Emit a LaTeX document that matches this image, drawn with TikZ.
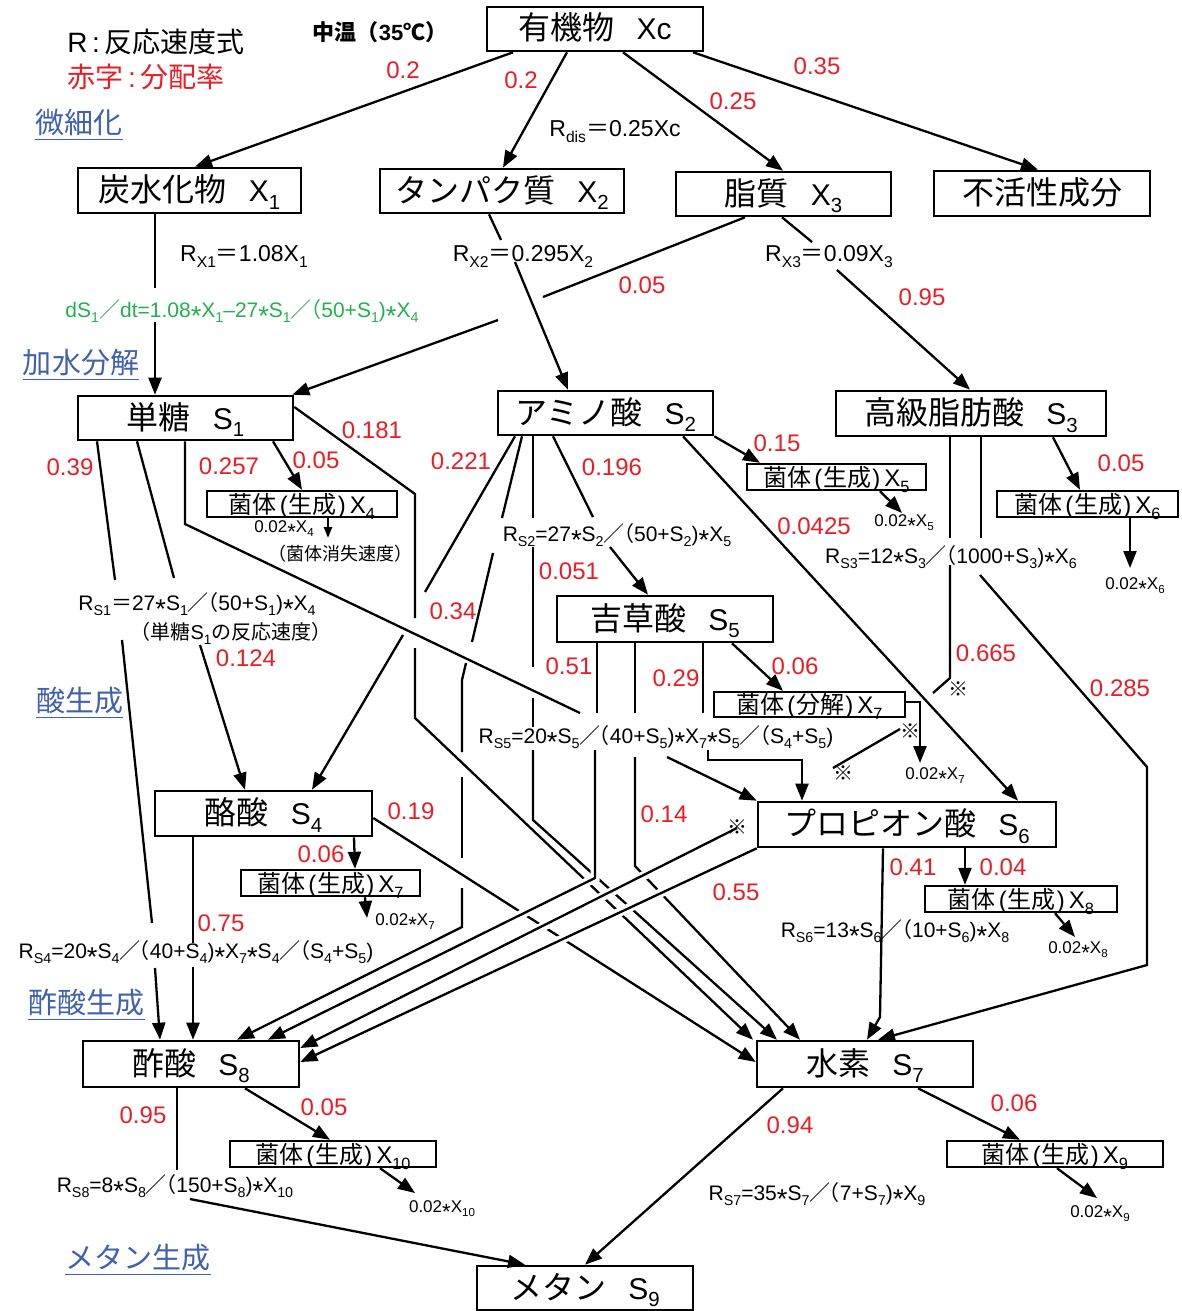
\documentclass[tikz,border=0pt]{standalone}
\usepackage{fontspec}
\setmainfont{Liberation Sans}
\newfontfamily\jp{Noto Sans CJK JP}
\usepackage{graphicx}
\usetikzlibrary{arrows.meta}
\definecolor{myred}{RGB}{237,28,36}
\definecolor{mygreen}{RGB}{34,177,76}
\definecolor{myblue}{RGB}{64,96,176}
\newcommand\J[1]{{\jp #1}}
\newcommand\BJ[1]{{\jp\fontsize{32}{32}\selectfont #1}}
\newcommand\SJ[1]{{\jp\fontsize{24}{24}\selectfont #1}}
\newcommand\kgen{\SJ{菌体}\hspace{3pt}(\hspace{1pt}\SJ{生成}\hspace{1pt})\hspace{4pt}}
\newcommand\kbun{\SJ{菌体}\hspace{3pt}(\hspace{1pt}\SJ{分解}\hspace{1pt})\hspace{4pt}}
\newcommand\dn[1]{\raisebox{-0.25em}{\scalebox{0.68}{#1}}}
\newcommand\astr{\raisebox{-0.4em}{\scalebox{1.3}{*}}}
\newcommand\slp{\J{／}\hspace{-0.55em}\J{（}}
\newcommand\fs[1]{\fontsize{#1}{#1}\selectfont}
\tikzset{
  box/.style={draw, line width=2.6pt, inner sep=0pt, text height=25pt, text depth=3pt, font=\fs{30}},
  sbox/.style={draw, line width=2.4pt, inner sep=0pt, text height=21pt, text depth=3pt, font=\fs{24}},
  ln/.style={line width=2.3pt},
  arr/.style={ln, -{Triangle[length=17pt,width=13pt]}},
  sarr/.style={ln, -{Triangle[length=11pt,width=8pt]}},
  rn/.style={text=myred, font=\fs{24}, inner sep=0pt},
  fm/.style={font=\fs{21}, inner sep=0pt, text height=16pt, text depth=4pt},
  fmx/.style={font=\fs{23}, inner sep=0pt, text height=17pt, text depth=4pt},
  tn/.style={font=\fs{17}, inner sep=0pt},
  lg/.style={font=\fs{28}, inner sep=0pt},
  bl/.style={text=myblue, font=\jp\fs{29}, inner sep=0pt, text depth=6pt},
  ul/.style={myblue, line width=1.3pt},
  km/.style={font=\jp\fs{20}, inner sep=0pt},
  halo/.style={draw=white, line width=9pt},
}
\begin{document}
\begin{tikzpicture}[x=1pt,y=-1pt]
\useasboundingbox (0,0) rectangle (1182,1311);
% ---------- boxes
\node[box, minimum width=216pt, minimum height=44pt] (Xc) at (595,29) {\BJ{有機物}\hspace{22pt}Xc};
\node[box, minimum width=223pt, minimum height=45pt] (X1) at (189.5,190.5) {\BJ{炭水化物}\hspace{22pt}X\dn{1}};
\node[box, minimum width=244pt, minimum height=44pt] (X2) at (502,191) {\BJ{タンパク質}\hspace{22pt}X\dn{2}};
\node[box, minimum width=215pt, minimum height=44pt] (X3) at (783.5,194) {\BJ{脂質}\hspace{22pt}X\dn{3}};
\node[box, minimum width=216pt, minimum height=45pt] (IN) at (1042,193.5) {\BJ{不活性成分}};
\node[box, minimum width=215pt, minimum height=44pt] (S1) at (185.5,418) {\BJ{単糖}\hspace{22pt}S\dn{1}};
\node[box, minimum width=215pt, minimum height=44pt] (S2) at (605.5,413) {\BJ{アミノ酸}\hspace{22pt}S\dn{2}};
\node[box, minimum width=270pt, minimum height=45pt] (S3) at (971,413.5) {\BJ{高級脂肪酸}\hspace{22pt}S\dn{3}};
\node[sbox, minimum width=190pt, minimum height=26pt] (X4) at (302,504) {\kgen X\dn{4}};
\node[sbox, minimum width=179pt, minimum height=26pt] (X5) at (836.5,477) {\kgen X\dn{5}};
\node[sbox, minimum width=181pt, minimum height=26pt] (X6) at (1087.5,504) {\kgen X\dn{6}};
\node[box, minimum width=216pt, minimum height=46pt] (S5) at (665,619) {\BJ{吉草酸}\hspace{22pt}S\dn{5}};
\node[sbox, minimum width=191pt, minimum height=25pt] (X7d) at (809.5,704.5) {\kbun X\dn{7}};
\node[box, minimum width=217pt, minimum height=45pt] (S4) at (263.5,813.5) {\BJ{酪酸}\hspace{22pt}S\dn{4}};
\node[sbox, minimum width=179pt, minimum height=26pt] (X7g) at (330.5,883) {\kgen X\dn{7}};
\node[box, minimum width=298pt, minimum height=45pt] (S6) at (907,824.5) {\BJ{プロピオン酸}\hspace{22pt}S\dn{6}};
\node[sbox, minimum width=192pt, minimum height=26pt] (X8) at (1021,899) {\kgen X\dn{8}};
\node[box, minimum width=216pt, minimum height=46pt] (S8) at (191,1064) {\BJ{酢酸}\hspace{22pt}S\dn{8}};
\node[box, minimum width=216pt, minimum height=46pt] (S7) at (865,1064) {\BJ{水素}\hspace{22pt}S\dn{7}};
\node[sbox, minimum width=206pt, minimum height=26pt] (X10) at (333,1154) {\kgen X\dn{10}};
\node[sbox, minimum width=216pt, minimum height=26pt] (X9) at (1055,1154) {\kgen X\dn{9}};
\node[box, minimum width=216pt, minimum height=44pt] (S9) at (585,1288) {\BJ{メタン}\hspace{22pt}S\dn{9}};
% ---------- connectors from Xc and X1..X3
\draw[arr] (Xc.south -| 513,0) -- (X1.north -| 195,0);
\draw[arr] (Xc.south -| 567,0) -- (X2.north -| 503,0);
\draw[arr] (Xc.south -| 623,0) -- (X3.north -| 783,0);
\draw[arr] (Xc.south -| 693,0) -- (IN.north -| 1038,0);
\draw[ln] (X1.south -| 155,0) -- (155,288);
\draw[arr] (155,322) -- (S1.north -| 155,0);
\draw[ln] (X2.south -| 489,0) -- (501,240);
\draw[arr] (515,262) -- (S2.north -| 568,0);
\draw[ln] (X3.south -| 745,0) -- (543,297);
\draw[arr] (498,320) -- ([xshift=-2pt]S1.north east);
\draw[ln] (X3.south -| 782,0) -- (812,242);
\draw[arr] (837,270) -- (S3.north -| 970,0);
% ---------- from S1
\draw[arr] (S1.south -| 273,0) -- (X4.north -| 302,0);
\draw[sarr] (X4.south -| 328,0) -- (328,538);
\draw[ln] (S1.south -| 97,0) -- (115,580);
\draw[ln] (122,640) -- (152,923);
\draw[arr] (155,968) -- (S8.north -| 160,0);
\draw[ln] (S1.south -| 137,0) -- (174,578);
\draw[arr] (200,645) -- (S4.north -| 245,0);
\draw[ln] (S1.south -| 185,0) -- (185,524) -- (580,713);
\draw[arr] (667,757) -- (S6.north west);
\draw[ln] (S1.east |- 0,407) -- (415,494) -- (415,618);
\draw[arr] (415,648) -- (415,718) -- (S7.north -| 753,0);
% ---------- from S2
\draw[ln] (S2.south -| 515,0) -- (425,592);
\draw[arr] (403,635) -- (S4.north -| 312,0);
\draw[ln] (S2.south -| 522,0) -- (502,518);
\draw[ln] (493,553) -- (472,642);
\draw[ln] (466,663) -- (462,680) -- (462,752);
\draw[ln] (462,777) -- (462,858);
\draw[arr] (462,888) -- (462,927) -- (S8.north -| 237,0);
\draw[ln] (S2.south -| 533,0) -- (533,518);
\draw[ln] (533,547) -- (533,667);
\draw[ln] (533,698) -- (533,727);
\draw[arr] (533,750) -- (533,820) -- (S7.north -| 777,0);
\draw[ln] (S2.south -| 553,0) -- (593,517);
\draw[arr] (610,547) -- (S5.north -| 648,0);
\draw[arr] (S2.south east) -- (X5.north -| 760,0);
\draw[arr] (S2.south -| 683,0) -- (S6.north -| 1018,0);
\draw[arr] (X5.south -| 880,0) -- (902,513);
% ---------- from S3
\draw[ln] (S3.south -| 950,0) -- (950,538);
\draw[ln] (950,565) -- (950,678) -- (933,693);
\draw[ln] (S3.south -| 981,0) -- (981,538);
\draw[arr] (980,575) -- (1147,767) -- (1147,965) -- (S7.north -| 878,0);
\draw[arr] (S3.south -| 1053,0) -- (X6.north -| 1080,0);
\draw[arr] (X6.south -| 1130,0) -- (1130,568);
% ---------- from S5
\draw[ln] (S5.south -| 597,0) -- (597,713);
\draw[ln] (S5.south -| 635,0) -- (635,713);
\draw[arr] (635,757) -- (635,866) -- (S7.north -| 800,0);
\draw[ln] (S5.south -| 703,0) -- (703,713);
\draw[arr] (708,750) -- (708,760) -- (802,760) -- (S6.north -| 802,0);
\draw[arr] (S5.south -| 732,0) -- (X7d.north -| 783,0);
\draw[arr] (X7d.east |- 0,702) -- (920,702) -- (920,763);
\draw[ln] (900,729) -- (833,768);
% ---------- from S6
\draw[arr] (S6.south -| 883,0) -- (880,1017) -- (S7.north -| 867,0);
\draw[arr] (S6.south -| 965,0) -- (X8.north -| 965,0);
\draw[arr] (X8.south -| 1055,0) -- (1075,937);
% ---------- from S4
\draw[ln] (S4.south -| 193,0) -- (193,943);
\draw[arr] (193,967) -- (S8.north -| 193,0);
\draw[arr] (S4.south -| 354,0) -- (X7g.north -| 355,0);
\draw[arr] (X7g.south -| 365,0) -- (367,918);
\draw[arr] (S4.east |- 0,818) -- (S7.west |- 0,1062);
% ---------- bundle to S8 (drawn over crossings)
\draw[halo] (595,840) -- (595,878) -- (350,999);
\draw[halo] (730,832) -- (360,1019);
\draw[halo] (752,850) -- (360,1034);
\draw[arr] (595,750) -- (595,878) -- (S8.north -| 268,0);
\draw[arr] (737,828) -- (S8.east |- 0,1048);
\draw[arr] (S6.south west) -- (S8.east |- 0,1062);
% ---------- from S8, S7
\draw[ln] (S8.south -| 177,0) -- (177,1170);
\draw[arr] (190,1199) -- (S9.north -| 525,0);
\draw[arr] (S8.south -| 245,0) -- (X10.north -| 330,0);
\draw[arr] (X10.south -| 380,0) -- (415,1193);
\draw[arr] (S7.south -| 783,0) -- (S9.north -| 585,0);
\draw[arr] (S7.south -| 918,0) -- (X9.north -| 1020,0);
\draw[arr] (X9.south -| 1057,0) -- (1097,1198);
% ---------- legend and section labels
\node[lg] (leg1) at (156,42) {R\,:\,\J{反応速度式}};
\node[lg, text=myred] (leg2) at (146,77) {\J{赤字}\,:\,\J{分配率}};
\node[font=\fs{22}\bfseries, inner sep=0pt] (temp) at (380,32) {\J{中温（}35\J{℃）}};
\node[bl] (u1) at (79,124) {微細化};
\node[bl] (u2) at (81,364) {加水分解};
\node[bl] (u3) at (79.5,702) {酸生成};
\node[bl] (u4) at (86.5,1004) {酢酸生成};
\node[bl] (u5) at (138,1259) {メタン生成};
\foreach \u in {u1,u2,u3,u4,u5} \draw[ul] (\u.south west) -- (\u.south east);
% ---------- red ratios
\node[rn] (r1) at (403,70) {0.2};
\node[rn] (r2) at (521,80) {0.2};
\node[rn] (r3) at (733,101) {0.25};
\node[rn] (r4) at (817,66) {0.35};
\node[rn] (r5) at (642,285) {0.05};
\node[rn] (r6) at (922,297) {0.95};
\node[rn] (r7) at (372,430) {0.181};
\node[rn] (r8) at (70,467) {0.39};
\node[rn] (r9) at (229,466) {0.257};
\node[rn] (r10) at (316,460) {0.05};
\node[rn] (r11) at (461,461) {0.221};
\node[rn] (r12) at (612,467) {0.196};
\node[rn] (r13) at (777,443) {0.15};
\node[rn] (r14) at (1121,463) {0.05};
\node[rn] (r15) at (814,526) {0.0425};
\node[rn] (r16) at (569,571) {0.051};
\node[rn] (r17) at (453,611) {0.34};
\node[rn] (r18) at (246,658) {0.124};
\node[rn] (r19) at (569,666) {0.51};
\node[rn] (r20) at (676,678) {0.29};
\node[rn] (r21) at (795,666) {0.06};
\node[rn] (r22) at (986,653) {0.665};
\node[rn] (r23) at (1120,688) {0.285};
\node[rn] (r24) at (411,811) {0.19};
\node[rn] (r25) at (664,814) {0.14};
\node[rn] (r26) at (321,854) {0.06};
\node[rn] (r27) at (221,923) {0.75};
\node[rn] (r28) at (913,867) {0.41};
\node[rn] (r29) at (1003,867) {0.04};
\node[rn] (r30) at (736,892) {0.55};
\node[rn] (r31) at (143,1115) {0.95};
\node[rn] (r32) at (324,1107) {0.05};
\node[rn] (r33) at (790,1125) {0.94};
\node[rn] (r34) at (1014,1103) {0.06};
% ---------- rate expressions
\node[fmx] (fdis) at (615,130) {R\dn{dis}\J{＝}0.25Xc};
\node[fmx] (fx1) at (244,255) {R\dn{X1}\J{＝}1.08X\dn{1}};
\node[fmx] (fx2) at (523,255) {R\dn{X2}\J{＝}0.295X\dn{2}};
\node[fmx] (fx3) at (829,255) {R\dn{X3}\J{＝}0.09X\dn{3}};
\node[fm, text=mygreen] (fg) at (242,311) {dS\dn{1}\J{／}dt=1.08\astr X\dn{1}–27\astr S\dn{1}\slp 50+S\dn{1})\astr X\dn{4}};
\node[tn] (t4) at (284,530) {0.02\astr X\dn{4}};
\node[font=\jp\fs{18}, inner sep=0pt] (t4b) at (340,554) {（菌体消失速度）};
\node[fm] (fs2) at (617,535) {R\dn{S2}=27\astr S\dn{2}\slp 50+S\dn{2})\astr X\dn{5}};
\node[tn] (t5) at (904,524) {0.02\astr X\dn{5}};
\node[fm] (fs3) at (951,557) {R\dn{S3}=12\astr S\dn{3}\slp 1000+S\dn{3})\astr X\dn{6}};
\node[tn] (t6) at (1135,587) {0.02\astr X\dn{6}};
\node[fm] (fs1) at (197,604) {R\dn{S1}\J{＝}27\astr S\dn{1}\slp 50+S\dn{1})\astr X\dn{4}};
\node[font=\fs{20}, inner sep=0pt, text height=15pt, text depth=3pt] (fs1b) at (231,633) {\J{（単糖}S\dn{1}\J{の反応速度）}};
\node[fm] (fs5) at (656,737) {R\dn{S5}=20\astr S\dn{5}\slp 40+S\dn{5})\astr X\dn{7}\astr S\dn{5}\slp S\dn{4}+S\dn{5})};
\node[tn] (t7r) at (935,777) {0.02\astr X\dn{7}};
\node[fm] (fs4) at (196,952) {R\dn{S4}=20\astr S\dn{4}\slp 40+S\dn{4})\astr X\dn{7}\astr S\dn{4}\slp S\dn{4}+S\dn{5})};
\node[tn] (t7l) at (405,923) {0.02\astr X\dn{7}};
\node[fm] (fs6) at (895,931) {R\dn{S6}=13\astr S\dn{6}\slp 10+S\dn{6})\astr X\dn{8}};
\node[tn] (t8) at (1078,951) {0.02\astr X\dn{8}};
\node[fm] (fs8) at (175,1186) {R\dn{S8}=8\astr S\dn{8}\slp 150+S\dn{8})\astr X\dn{10}};
\node[tn] (t10) at (442,1210) {0.02\astr X\dn{10}};
\node[fm] (fs7) at (817,1194) {R\dn{S7}=35\astr S\dn{7}\slp 7+S\dn{7})\astr X\dn{9}};
\node[tn] (t9) at (1100,1215) {0.02\astr X\dn{9}};
% ---------- marks
\node[km] (k1) at (958,689) {※};
\node[km] (k2) at (910,731) {※};
\node[km] (k3) at (843,773) {※};
\node[km] (k4) at (737,827) {※};
\end{tikzpicture}
\end{document}
